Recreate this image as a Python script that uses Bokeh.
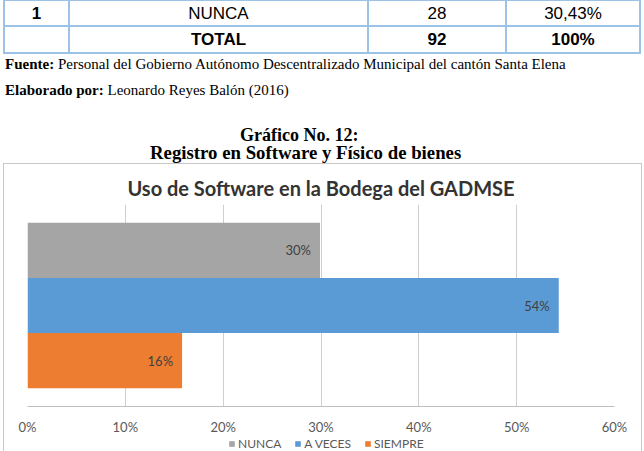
from bokeh.plotting import figure
from bokeh.models import (Range1d, ColumnDataSource, Legend, LegendItem, NumeralTickFormatter,
                          Div, FixedTicker, LabelSet)
from bokeh.layouts import column
from bokeh.core.properties import value
from bokeh.embed import file_html
from bokeh.resources import INLINE

# ---- data ----
categories = ["NUNCA", "A VECES", "SIEMPRE"]
shares = [0.299, 0.543, 0.158]
bar_colors = ["#a5a5a5", "#5b9bd5", "#ed7d31"]
x_ticks = [0.0, 0.1, 0.2, 0.3, 0.4, 0.5, 0.6]

table_row = ["1", "NUNCA", "28", "30,43%"]
table_total = ["", "TOTAL", "92", "100%"]
source_text = "Personal del Gobierno Autónomo Descentralizado Municipal del cantón Santa Elena"
author_text = "Leonardo Reyes Balón (2016)"
fig_number = "Gráfico No. 12:"
fig_caption = "Registro en Software y Físico de bienes"
chart_title = "Uso de Software en la Bodega del GADMSE"

# ---- document header (table + captions) ----
line_c = "#9cc3e6"
col_x = [3, 68, 367, 505, 639]
parts = []
for y in (-1, 25, 52):
    parts.append(f'<div style="position:absolute;left:3px;top:{y}px;width:637px;height:2px;background:{line_c}"></div>')
for x in col_x:
    parts.append(f'<div style="position:absolute;left:{x}px;top:0px;width:2px;height:54px;background:{line_c}"></div>')
for row, top, bold_all in ((table_row, 4, False), (table_total, 30, True)):
    for i, txt in enumerate(row):
        w = col_x[i + 1] - col_x[i]
        weight = "bold" if (bold_all or i == 0) else "normal"
        parts.append(
            f'<div style="position:absolute;left:{col_x[i]+1}px;top:{top}px;width:{w}px;text-align:center;'
            f'font-family:\'Liberation Sans\';font-size:17px;line-height:20px;font-weight:{weight};color:#000">{txt}</div>')
serif = "font-family:'Liberation Serif';color:#000;white-space:nowrap;"
parts.append(f'<div style="position:absolute;left:5px;top:56px;{serif}font-size:15px;line-height:16px"><b>Fuente:</b> {source_text}</div>')
parts.append(f'<div style="position:absolute;left:5px;top:82px;{serif}font-size:15px;line-height:16px"><b>Elaborado por:</b> {author_text}</div>')
parts.append(f'<div style="position:absolute;left:240px;top:127px;{serif}font-size:18px;line-height:16px;font-weight:bold">{fig_number}</div>')
parts.append(f'<div style="position:absolute;left:150px;top:145px;{serif}font-size:18.8px;line-height:16px;font-weight:bold">{fig_caption}</div>')
html = ('<div style="position:relative;width:644px;height:163px;overflow:hidden;background:#fff">'
        + "".join(parts) + '</div>')
header = Div(text=html, width=644, height=163, margin=(0, 0, 0, 0))

# ---- chart ----
n = len(categories)
ypos = [n - 1 - i for i in range(n)]
labels = [f"{round(s * 100)}%" for s in shares]
src = ColumnDataSource(dict(cat=categories, share=shares, y=ypos, color=bar_colors, label=labels))

p = figure(width=637, height=273, x_range=Range1d(0, 0.6), y_range=Range1d(-0.83, 2.83),
           output_backend="svg", toolbar_location=None, y_axis_location=None,
           min_border_left=23, min_border_right=27, min_border_top=40, min_border_bottom=28,
           margin=(0, 0, 0, 0))
p.outline_line_color = None
p.background_fill_color = "white"
p.border_fill_color = "white"

p.title.text = chart_title
p.title.align = "center"
p.title.text_font = "Lato"
p.title.text_font_size = "20px"
p.title.text_font_style = "bold"
p.title.text_color = "#333333"
p.title.offset = 3

p.xgrid.ticker = FixedTicker(ticks=x_ticks)
p.xgrid.grid_line_color = "#cfcfcf"
p.ygrid.grid_line_color = None
p.xaxis.ticker = FixedTicker(ticks=x_ticks)
p.xaxis.formatter = NumeralTickFormatter(format="0%")
p.xaxis.axis_line_color = "#bfbfbf"
p.xaxis.major_tick_line_color = None
p.xaxis.minor_tick_line_color = None
p.xaxis.major_tick_out = 0
p.xaxis.major_tick_in = 0
p.xaxis.minor_tick_out = 0
p.xaxis.minor_tick_in = 0
p.xaxis.major_label_text_font = "Lato"
p.xaxis.major_label_text_font_size = "13px"
p.xaxis.major_label_text_color = "#595959"
p.xaxis.major_label_standoff = 12

for i, cat in enumerate(categories):
    view_src = ColumnDataSource(dict(y=[ypos[i]], right=[shares[i]]))
    p.hbar(y="y", left=0, right="right", height=1, source=view_src,
           fill_color=bar_colors[i], line_color=None)

p.add_layout(LabelSet(x="share", y="y", text="label", source=src, x_offset=-9,
                      text_align="right", text_baseline="middle", text_font=value("Lato"),
                      text_font_size="13px", text_color="#404040"))

# ---- legend strip (same series, drawn by Bokeh's Legend) ----
lg = figure(width=637, height=14, x_range=Range1d(10, 11), y_range=Range1d(10, 11),
            output_backend="svg", toolbar_location=None, x_axis_location=None, y_axis_location=None,
            min_border=0, min_border_left=0, min_border_right=0, min_border_top=0, min_border_bottom=0,
            margin=(0, 0, 0, 0))
lg.outline_line_color = None
lg.xgrid.grid_line_color = None
lg.ygrid.grid_line_color = None
lg.background_fill_color = "white"
lg.border_fill_color = "white"
items = []
for i, cat in enumerate(categories):
    s = ColumnDataSource(dict(y=[ypos[i]], right=[shares[i]]))
    r = lg.hbar(y="y", left=0, right="right", height=1, source=s,
                fill_color=bar_colors[i], line_color=None)
    items.append(LegendItem(label=cat, renderers=[r]))
legend = Legend(items=items, orientation="horizontal", location=(201, 0),
                glyph_width=7, glyph_height=7, label_text_font="Lato", label_text_font_size="12px",
                label_text_color="#595959", spacing=13, padding=0, margin=0, label_standoff=3,
                label_height=14, border_line_color=None, background_fill_alpha=0)
lg.add_layout(legend)

chart_box = column(p, lg, margin=(0, 0, 0, 3), spacing=0,
                   styles={"border-top": "1px solid #c8c8c8", "border-left": "1px solid #c8c8c8",
                           "border-right": "1px solid #c8c8c8"})

layout = column(header, chart_box, spacing=0, margin=(0, 0, 0, 0))
open("out.html", "w").write(file_html(layout, INLINE))
